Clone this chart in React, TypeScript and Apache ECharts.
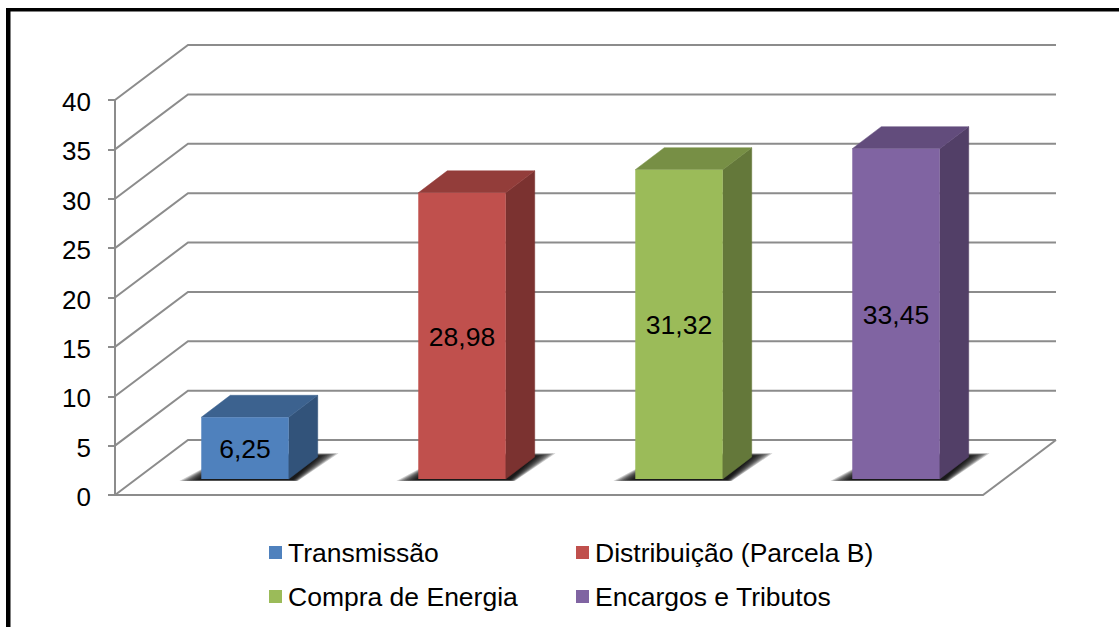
import React, { useEffect, useRef } from "react";
import * as echarts from "echarts";

const categories = ["Transmissão", "Distribuição (Parcela B)", "Compra de Energia", "Encargos e Tributos"];
const values = [6.25, 28.98, 31.32, 33.45];
const valueLabels = ["6,25", "28,98", "31,32", "33,45"];
const yTicks = [0, 5, 10, 15, 20, 25, 30, 35, 40];
const frontColors = ["#4f81bd", "#c0504d", "#9bbb59", "#8064a2"];
const topColors = ["#3c628f", "#933d3a", "#778f45", "#624c7c"];
const sideColors = ["#32537a", "#7b3230", "#64783a", "#523f67"];

const FONT = "'Liberation Sans', Arial, sans-serif";
const GRID = "#8c8c8c";
const GRID_W = 2;
const WALL_DX = 73;
const WALL_DY = -55;
const BAR_DX = 29;
const BAR_DY = -22;
const BAR_SHIFT_X = 21.5;
const BAR_SHIFT_Y = -16;
const BAR_RATIO = 0.403;
const SHADOW_LAYERS = [0, 1, 2, 3, 4, 5, 6, 7, 8, 9];

function wallItem(params: any, api: any) {
  const v = api.value(0);
  const cs = params.coordSys;
  const y = api.coord([0, v])[1];
  const x0 = cs.x;
  const x1 = cs.x + cs.width;
  const children: any[] = [
    {
      type: "polyline",
      shape: { points: [[x0, y], [x0 + WALL_DX, y + WALL_DY], [x1 + WALL_DX, y + WALL_DY]] },
      style: { stroke: GRID, lineWidth: GRID_W, fill: "none" },
    },
  ];
  if (v === 0) {
    children.push({
      type: "polyline",
      shape: { points: [[x0, y], [x1, y], [x1 + WALL_DX, y + WALL_DY]] },
      style: { stroke: GRID, lineWidth: GRID_W, fill: "none" },
    });
  }
  return { type: "group", children };
}

function barItem(index: number) {
  return (params: any, api: any) => {
    const c = api.value(0);
    const v = api.value(1);
    const band = api.size([1, 0])[0];
    const w = band * BAR_RATIO;
    const top0 = api.coord([c, v]);
    const base0 = api.coord([c, 0]);
    const xl = top0[0] + BAR_SHIFT_X - w / 2;
    const xr = xl + w;
    const yt = top0[1] + BAR_SHIFT_Y;
    const yb = base0[1] + BAR_SHIFT_Y;
    const shadows = SHADOW_LAYERS.map((k) => {
      const e = (9 - k) * 2.2;
      const h = (9 - k) * 0.3;
      return {
        type: "polygon",
        shape: {
          points: [
            [xl - 2 - e, yb + 1 + h * 0.4],
            [xr + 4 + e * 0.25, yb + 1 + h * 0.4],
            [xr + BAR_DX + 1 + e, yb + BAR_DY - 1 - h],
            [xl + 30, yb + BAR_DY - 1 - h],
          ],
        },
        style: { fill: "rgba(0,0,0,0.2)" },
      };
    });
    return {
      type: "group",
      children: [
        ...shadows,
        {
          type: "polygon",
          shape: { points: [[xr, yt], [xr + BAR_DX, yt + BAR_DY], [xr + BAR_DX, yb + BAR_DY], [xr, yb]] },
          style: { fill: sideColors[index], stroke: sideColors[index], lineWidth: 0.5 },
        },
        {
          type: "polygon",
          shape: { points: [[xl, yt], [xl + BAR_DX, yt + BAR_DY], [xr + BAR_DX, yt + BAR_DY], [xr, yt]] },
          style: { fill: topColors[index], stroke: topColors[index], lineWidth: 0.5 },
        },
        {
          type: "rect",
          shape: { x: xl, y: yt, width: w, height: yb - yt },
          style: { fill: frontColors[index] },
        },
        {
          type: "text",
          x: (xl + xr) / 2,
          y: (yt + yb) / 2 + 1,
          style: {
            text: valueLabels[index],
            fill: "#000",
            font: `26.5px ${FONT}`,
            align: "center",
            verticalAlign: "middle",
          },
        },
      ],
    };
  };
}

const legendSlots = [
  { left: 269, top: 539 },
  { left: 576, top: 539 },
  { left: 269, top: 583 },
  { left: 576, top: 583 },
];

export default function App() {
  const ref = useRef<HTMLDivElement>(null);
  useEffect(() => {
    const chart = echarts.init(ref.current!, undefined, { renderer: "svg" });
    chart.setOption({
      animation: false,
      backgroundColor: "#fff",
      grid: { left: 115, top: 100, width: 868, height: 395 },
      xAxis: {
        type: "category",
        data: categories,
        axisLabel: { show: false },
        axisTick: { show: false },
        axisLine: { show: false },
      },
      yAxis: {
        type: "value",
        min: 0,
        max: 40,
        interval: 5,
        splitLine: { show: false },
        axisLine: { show: true, lineStyle: { color: GRID, width: GRID_W } },
        axisTick: { show: true, length: 7, lineStyle: { color: GRID, width: GRID_W } },
        axisLabel: {
          color: "#000",
          fontFamily: FONT,
          fontSize: 26,
          margin: 24,
          verticalAlign: "top",
          lineHeight: 4,
        },
      },
      legend: categories.map((name, i) => ({
        data: [name],
        left: legendSlots[i].left,
        top: legendSlots[i].top,
        icon: "rect",
        itemWidth: 13,
        itemHeight: 13,
        itemGap: 0,
        padding: 0,
        selectedMode: false,
        textStyle: { color: "#000", fontFamily: FONT, fontSize: 26.5, padding: [0, 0, 0, 1] },
      })),
      series: [
        {
          type: "custom",
          name: "wall",
          z: 1,
          silent: true,
          data: yTicks.map((t) => [t]),
          encode: { y: 0 },
          renderItem: wallItem,
        },
        ...categories.map((name, i) => ({
          type: "custom",
          name,
          z: 2,
          silent: true,
          itemStyle: { color: frontColors[i] },
          data: [[i, values[i]]],
          encode: { x: 0, y: 1 },
          renderItem: barItem(i),
        })),
      ],
      graphic: [
        { type: "rect", shape: { x: 6, y: 8, width: 1113, height: 3.5 }, style: { fill: "#000" }, z: 10 },
        { type: "rect", shape: { x: 6, y: 8, width: 4.5, height: 619 }, style: { fill: "#000" }, z: 10 },
      ],
    });
    return () => chart.dispose();
  }, []);
  return <div ref={ref} style={{ position: "absolute", left: 0, top: 0, width: 1119, height: 627 }} />;
}
